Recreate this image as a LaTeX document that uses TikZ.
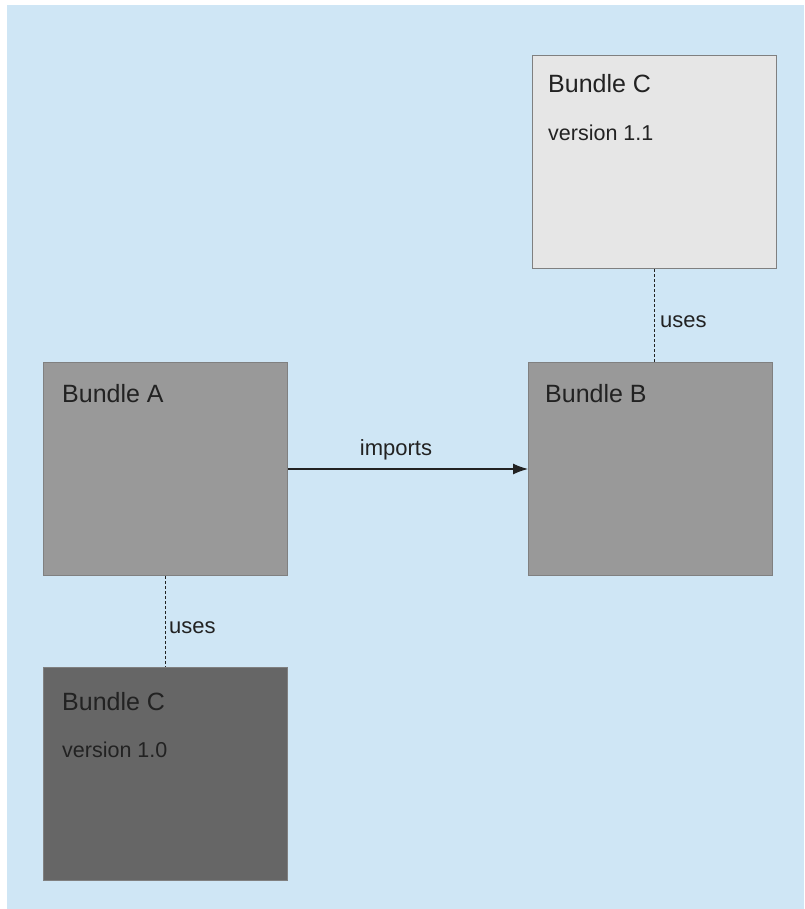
\documentclass[tikz,border=0pt]{standalone}
\usepackage{fontspec}
\setmainfont{Liberation Sans}
\usepackage{xcolor}
\usetikzlibrary{arrows.meta}
\usetikzlibrary{shapes}

\definecolor{hintergrund}{RGB}{207,230,245}
\definecolor{hell}{RGB}{230,230,230}
\definecolor{mittel}{RGB}{153,153,153}
\definecolor{dunkel}{RGB}{102,102,102}
\definecolor{rand}{RGB}{128,128,128}
\definecolor{schrift}{RGB}{34,34,34}

\tikzset{
    bundle/.style={rectangle, draw=rand, line width=1pt, anchor=north west, inner sep=0pt,
        minimum width=244pt, minimum height=213pt},
    titel/.style={anchor=base west, inner sep=0pt, text=schrift, font=\fontsize{25}{30}\selectfont},
    version/.style={anchor=base west, inner sep=0pt, text=schrift, font=\fontsize{21.5}{26}\selectfont},
    beschriftung/.style={inner sep=0pt, text=schrift, font=\fontsize{22}{26}\selectfont},
    nutzt/.style={draw=schrift, line width=1.2pt, dash pattern=on 3pt off 2pt},
}

\begin{document}
\begin{tikzpicture}[x=1pt, y=-1pt]
        \useasboundingbox (0,0) rectangle (804,909);
        % Hintergrund
        \fill[hintergrund] (7,5) rectangle (804,909);
        % Bundles
        \node[bundle, fill=hell]   (c11) at (532,55)  {};
        \node[bundle, fill=mittel] (b)   at (528,362) {};
        \node[bundle, fill=mittel] (a)   at (43,362)  {};
        \node[bundle, fill=dunkel] (c10) at (43,667)  {};
        % Texte
        \node[titel]   (c11titel)   at (548,93)  {Bundle C};
        \node[version] (c11version) at (548,141) {version 1.1};
        \node[titel]   (btitel)     at (545,402) {Bundle B};
        \node[titel]   (atitel)     at (62,402)  {Bundle A};
        \node[titel]   (c10titel)   at (62,710)  {Bundle C};
        \node[version] (c10version) at (62,757)  {version 1.0};
        % Verbindungen
        \draw[nutzt] (c11.south) -- (c11.south |- b.north)
            node[beschriftung, pos=0.57, anchor=west, xshift=5pt] (usesb) {uses};
        \draw[nutzt] (a.south) -- (c10.north)
            node[beschriftung, pos=0.57, anchor=west, xshift=3pt] (usesa) {uses};
        \draw[-{Latex[length=15pt,width=11pt]}, line width=1.2pt, draw=schrift] (a.east) -- (b.west)
            node[beschriftung, pos=0.45, above=8pt] (imports) {imports};
\end{tikzpicture}
\end{document}
